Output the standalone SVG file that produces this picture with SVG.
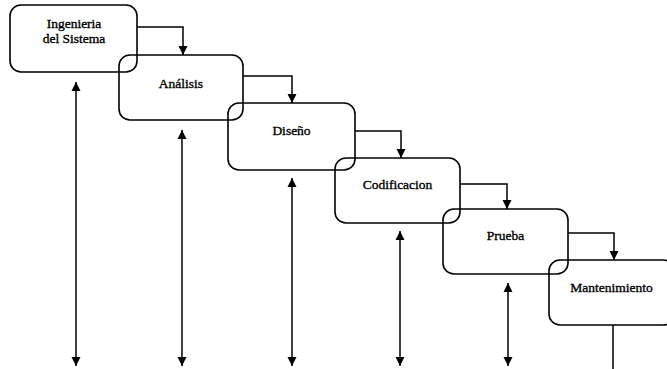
<svg xmlns="http://www.w3.org/2000/svg" width="667" height="369" viewBox="0 0 667 369">
  <style>
    .box { fill: none; stroke: #000; stroke-width: 1.6; }
    .lbl { font-family: "Liberation Serif", "Times New Roman", serif; font-size: 13.5px; fill: #000; stroke: #000; stroke-width: 0.35; text-anchor: middle; }
    .conn { fill: none; stroke: #000; stroke-width: 1.5; }
  </style>
  <defs>
    <marker id="head" viewBox="0 0 10 10" refX="10" refY="5" markerWidth="9" markerHeight="10" markerUnits="userSpaceOnUse" orient="auto-start-reverse">
      <path d="M0,0 L10,5 L0,10 Z" fill="#000"/>
    </marker>
  </defs>
  <rect width="667" height="369" fill="#fff"/>

  <g id="ingenieria">
    <rect class="box" x="10" y="5" width="127" height="67" rx="11"/>
    <text class="lbl" x="74" y="28">Ingenieria</text>
    <text class="lbl" x="74" y="43">del Sistema</text>
  </g>
  <g id="analisis">
    <rect class="box" x="119" y="55" width="124" height="65" rx="11"/>
    <text class="lbl" x="181" y="88">Análisis</text>
  </g>
  <g id="diseno">
    <rect class="box" x="228" y="103" width="127" height="67" rx="11"/>
    <text class="lbl" x="291.5" y="135">Diseño</text>
  </g>
  <g id="codificacion">
    <rect class="box" x="335" y="158" width="125" height="65" rx="11"/>
    <text class="lbl" x="397.5" y="189">Codificacion</text>
  </g>
  <g id="prueba">
    <rect class="box" x="443" y="209" width="125" height="65" rx="11"/>
    <text class="lbl" x="505.5" y="240">Prueba</text>
  </g>
  <g id="mantenimiento">
    <rect class="box" x="549" y="260" width="125" height="65" rx="11"/>
    <text class="lbl" x="611.5" y="292">Mantenimiento</text>
  </g>

  <g id="connectors">
    <!-- cascade between stages -->
    <path class="conn" d="M137,27 H183 V55" marker-end="url(#head)"/>
    <path class="conn" d="M243,76 H292 V103" marker-end="url(#head)"/>
    <path class="conn" d="M355,131 H401 V158" marker-end="url(#head)"/>
    <path class="conn" d="M460,184 H507 V209" marker-end="url(#head)"/>
    <path class="conn" d="M568,233 H614 V260" marker-end="url(#head)"/>
    <!-- two-way feedback arrows -->
    <path class="conn" d="M76,82 V366" marker-start="url(#head)" marker-end="url(#head)"/>
    <path class="conn" d="M182,130 V366" marker-start="url(#head)" marker-end="url(#head)"/>
    <path class="conn" d="M292,178 V366" marker-start="url(#head)" marker-end="url(#head)"/>
    <path class="conn" d="M400,231 V366" marker-start="url(#head)" marker-end="url(#head)"/>
    <path class="conn" d="M508,283 V366" marker-start="url(#head)" marker-end="url(#head)"/>
    <path class="conn" d="M613,325 V369"/>
  </g>
</svg>
